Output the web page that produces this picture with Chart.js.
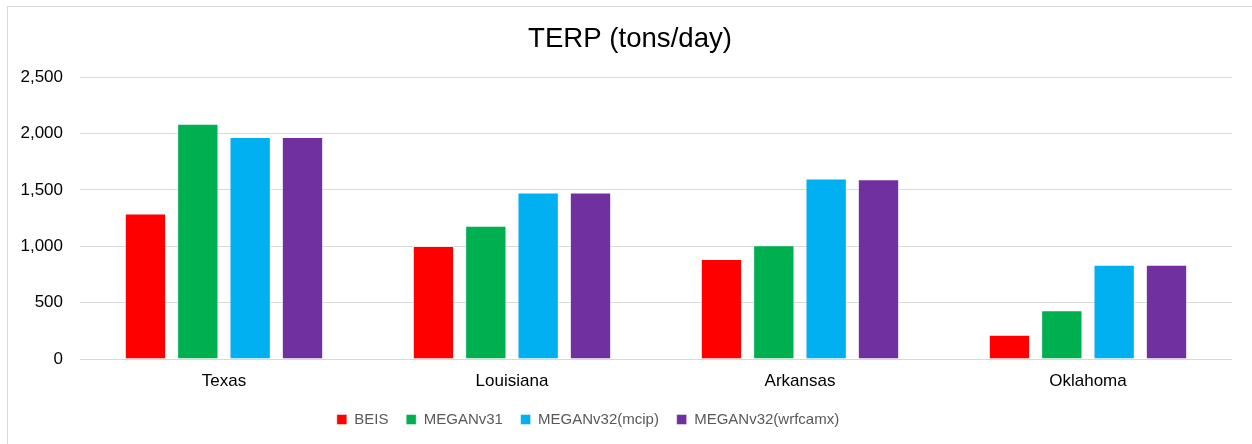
<!DOCTYPE html>
<html>
<head>
<meta charset="utf-8">
<script src="https://cdn.jsdelivr.net/npm/chart.js@4.4.1/dist/chart.umd.min.js"></script>
<style>
  html, body { margin: 0; padding: 0; background: #ffffff; overflow: hidden; }
  #frame {
    position: absolute; left: 7px; top: 6px; width: 1300px; height: 500px;
    border: 1px solid #d9d9d9; box-sizing: border-box;
  }
  #wrap { position: absolute; left: 0; top: 0; width: 1252px; height: 444px; }
  #chart { display: block; width: 1252px; height: 444px; }
</style>
</head>
<body>
<div id="frame"></div>
<div id="wrap"><canvas id="chart" width="1252" height="444"></canvas></div>
<script>
// Terpene emissions by state, tons/day
const states = ['Texas', 'Louisiana', 'Arkansas', 'Oklahoma'];
const seriesNames = ['BEIS', 'MEGANv31', 'MEGANv32(mcip)', 'MEGANv32(wrfcamx)'];
const beis = [1292, 1003, 888, 215];
const meganV31 = [2088, 1182, 1009, 434];
const meganV32Mcip = [1970, 1478, 1602, 837];
const meganV32Wrfcamx = [1969, 1477, 1596, 837];
const yTicks = [0, 500, 1000, 1500, 2000, 2500];

const seriesColors = ['#FF0000', '#00B050', '#00B0F0', '#7030A0'];
const seriesValues = [beis, meganV31, meganV32Mcip, meganV32Wrfcamx];

const FONT = "'Liberation Sans', Arial, sans-serif";

// moves the title slightly right and the legend row slightly left
const blockShift = {
  id: 'blockShift',
  afterLayout(chart) {
    const lg = chart.legend;
    if (lg) { lg.left -= 28; lg.right -= 28; }
    const tb = chart.titleBlock;
    if (tb) { tb.left += 14; tb.right += 14; }
  }
};

new Chart(document.getElementById('chart'), {
  type: 'bar',
  data: {
    labels: states,
    datasets: seriesNames.map((name, i) => ({
      label: name,
      data: seriesValues[i],
      backgroundColor: seriesColors[i],
      borderColor: 'rgba(255,255,255,0.45)',
      borderWidth: 1,
      barPercentage: 0.79,
      categoryPercentage: 0.727
    }))
  },
  options: {
    responsive: false,
    maintainAspectRatio: false,
    animation: false,
    locale: 'en-US',
    layout: { padding: { left: 0, right: 20, top: 0, bottom: 7 } },
    plugins: {
      title: {
        display: true,
        text: 'TERP (tons/day)',
        color: '#000000',
        font: { family: FONT, size: 27.6, weight: 'normal' },
        padding: { top: 22.5, bottom: 21.6 }
      },
      legend: {
        position: 'bottom',
        labels: {
          boxWidth: 10,
          boxHeight: 10,
          padding: 17.7,
          color: '#595959',
          font: { family: FONT, size: 15 }
        }
      },
      tooltip: { enabled: false }
    },
    scales: {
      x: {
        grid: { display: false, drawTicks: false },
        border: { display: false },
        ticks: {
          color: '#000000',
          padding: 12,
          font: { family: FONT, size: 17 }
        },
        afterFit(s) { s.height = 35.2; }
      },
      y: {
        min: 0,
        max: 2500,
        afterBuildTicks(s) { s.ticks = yTicks.map(v => ({ value: v })); },
        grid: { color: '#d9d9d9', lineWidth: 1, drawTicks: false },
        border: { display: false },
        ticks: {
          color: '#000000',
          padding: 17,
          font: { family: FONT, size: 17 },
          callback: v => v.toLocaleString('en-US')
        },
        afterFit(s) { s.width = 80; }
      }
    }
  },
  plugins: [blockShift]
});
</script>
</body>
</html>
